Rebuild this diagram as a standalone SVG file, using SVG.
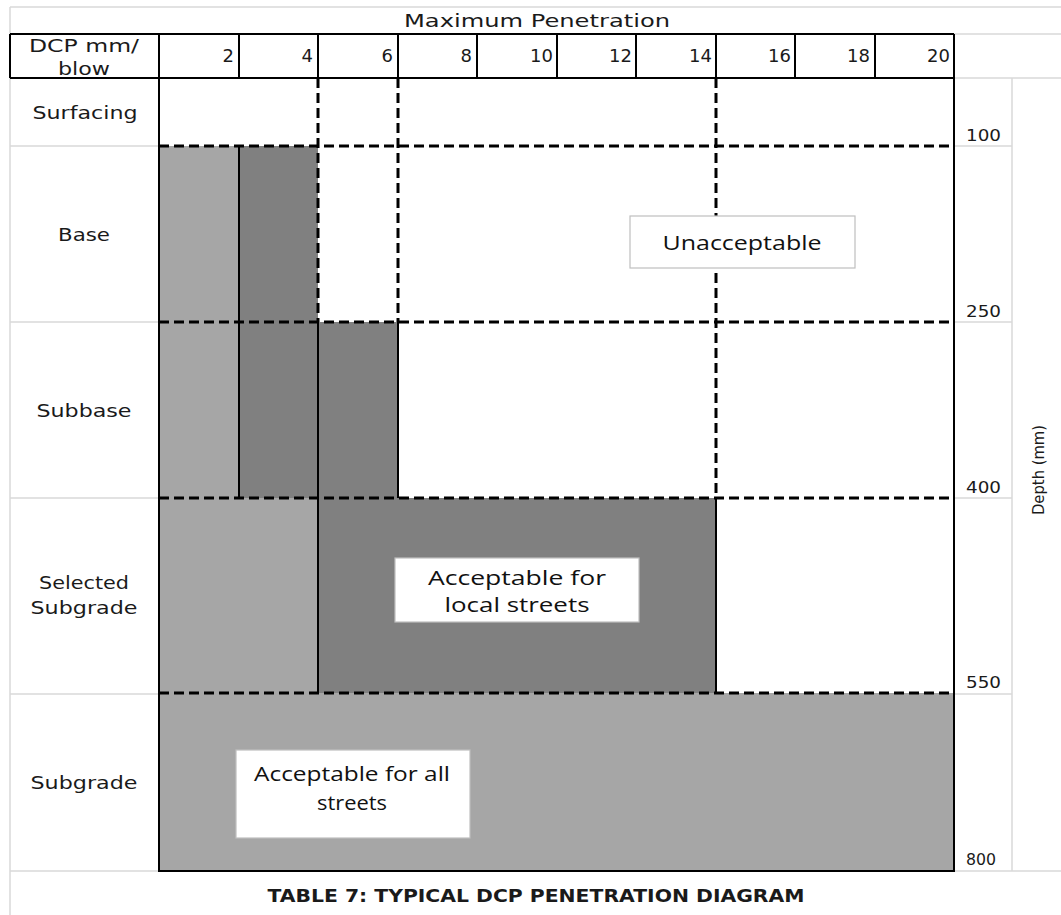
<svg xmlns="http://www.w3.org/2000/svg" width="1061" height="915" viewBox="0 0 1061 915">
<style>
.bg{fill:#ffffff}
.grid{stroke:#d9d9d9;stroke-width:1.5;fill:none}
.solid{stroke:#000;stroke-width:2;fill:none}
.dash{stroke:#000;stroke-width:3;stroke-dasharray:10 5;fill:none}
.lt{fill:#a6a6a6}
.dk{fill:#808080}
.lbl{font-family:"DejaVu Sans",sans-serif;font-size:17.5px;fill:#1a1a1a}
.num{font-family:"DejaVu Sans",sans-serif;font-size:18px;fill:#1a1a1a;text-anchor:end}
.dep{font-family:"DejaVu Sans",sans-serif;font-size:16px;fill:#1a1a1a}
.box{fill:#ffffff;stroke:#bfbfbf;stroke-width:1.2}
.boxt{font-family:"Open Sans",sans-serif;font-size:20px;fill:#111;text-anchor:middle}
.cap{font-family:"DejaVu Sans",sans-serif;font-size:17px;font-weight:bold;fill:#1a1a1a;text-anchor:middle}
</style>
<rect class="bg" x="0" y="0" width="1061" height="915"/>

<g id="sheet-grid">
<line class="grid" x1="10" y1="7" x2="1061" y2="7"/>
<line class="grid" x1="10" y1="7" x2="10" y2="915"/>
<line class="grid" x1="954" y1="34" x2="1061" y2="34"/>
<line class="grid" x1="954" y1="78" x2="1061" y2="78"/>
<line class="grid" x1="1012" y1="78" x2="1012" y2="871"/>
<line class="grid" x1="10" y1="146" x2="159" y2="146"/>
<line class="grid" x1="10" y1="322" x2="159" y2="322"/>
<line class="grid" x1="10" y1="498" x2="159" y2="498"/>
<line class="grid" x1="10" y1="694" x2="159" y2="694"/>
<line class="grid" x1="954" y1="146" x2="1012" y2="146"/>
<line class="grid" x1="954" y1="322" x2="1012" y2="322"/>
<line class="grid" x1="954" y1="498" x2="1012" y2="498"/>
<line class="grid" x1="954" y1="694" x2="1012" y2="694"/>
<line class="grid" x1="10" y1="871" x2="1061" y2="871"/>
</g>

<g id="fills">
<rect class="lt" x="159" y="146" width="80" height="352"/>
<rect class="dk" x="239" y="146" width="79" height="176"/>
<rect class="dk" x="239" y="322" width="159" height="176"/>
<rect class="lt" x="159" y="498" width="159" height="195"/>
<rect class="dk" x="318" y="498" width="398" height="195"/>
<rect class="lt" x="159" y="693" width="795" height="178"/>
</g>

<g id="connectors">
<line class="dash" x1="318" y1="78" x2="318" y2="322"/>
<line class="dash" x1="398" y1="78" x2="398" y2="322"/>
<line class="dash" x1="716" y1="78" x2="716" y2="498"/>
<line class="dash" x1="159" y1="146" x2="954" y2="146"/>
<line class="dash" x1="159" y1="322" x2="954" y2="322"/>
<line class="dash" x1="159" y1="498" x2="954" y2="498"/>
<line class="dash" x1="159" y1="693" x2="954" y2="693"/>
<line class="solid" x1="239" y1="146" x2="239" y2="498"/>
<line class="solid" x1="318" y1="322" x2="318" y2="693"/>
<line class="solid" x1="398" y1="322" x2="398" y2="498"/>
<line class="solid" x1="716" y1="498" x2="716" y2="693"/>
</g>

<g id="frame">
<line class="solid" x1="10" y1="34" x2="954" y2="34"/>
<line class="solid" x1="10" y1="78" x2="954" y2="78"/>
<line class="solid" x1="10" y1="34" x2="10" y2="78"/>
<line class="solid" x1="159" y1="34" x2="159" y2="871"/>
<line class="solid" x1="954" y1="34" x2="954" y2="871"/>
<line class="solid" x1="158" y1="871" x2="955" y2="871"/>
<line class="solid" x1="239" y1="34" x2="239" y2="78"/>
<line class="solid" x1="318" y1="34" x2="318" y2="78"/>
<line class="solid" x1="398" y1="34" x2="398" y2="78"/>
<line class="solid" x1="477" y1="34" x2="477" y2="78"/>
<line class="solid" x1="557" y1="34" x2="557" y2="78"/>
<line class="solid" x1="636" y1="34" x2="636" y2="78"/>
<line class="solid" x1="716" y1="34" x2="716" y2="78"/>
<line class="solid" x1="795" y1="34" x2="795" y2="78"/>
<line class="solid" x1="875" y1="34" x2="875" y2="78"/>
</g>

<g id="title">
<text class="lbl" x="404" y="27" font-size="18" textLength="266" lengthAdjust="spacingAndGlyphs">Maximum Penetration</text>
</g>

<g id="header">
<text class="lbl" x="84" y="52" text-anchor="middle" textLength="110" lengthAdjust="spacingAndGlyphs">DCP mm/</text>
<text class="lbl" x="84" y="75" text-anchor="middle" textLength="52" lengthAdjust="spacingAndGlyphs">blow</text>
<text class="num" x="234" y="62">2</text>
<text class="num" x="313" y="62">4</text>
<text class="num" x="393" y="62">6</text>
<text class="num" x="472" y="62">8</text>
<text class="num" x="553" y="62">10</text>
<text class="num" x="632" y="62">12</text>
<text class="num" x="712" y="62">14</text>
<text class="num" x="791" y="62">16</text>
<text class="num" x="870" y="62">18</text>
<text class="num" x="950" y="62">20</text>
</g>

<g id="row-labels">
<text class="lbl" x="85" y="119" text-anchor="middle" textLength="105" lengthAdjust="spacingAndGlyphs">Surfacing</text>
<text class="lbl" x="84" y="241" text-anchor="middle" textLength="52" lengthAdjust="spacingAndGlyphs">Base</text>
<text class="lbl" x="84" y="417" text-anchor="middle" textLength="95" lengthAdjust="spacingAndGlyphs">Subbase</text>
<text class="lbl" x="84" y="589" text-anchor="middle" textLength="90" lengthAdjust="spacingAndGlyphs">Selected</text>
<text class="lbl" x="84" y="614" text-anchor="middle" textLength="107" lengthAdjust="spacingAndGlyphs">Subgrade</text>
<text class="lbl" x="84" y="789" text-anchor="middle" textLength="107" lengthAdjust="spacingAndGlyphs">Subgrade</text>
</g>

<g id="depths">
<text class="dep" x="966" y="141" textLength="35" lengthAdjust="spacingAndGlyphs">100</text>
<text class="dep" x="966" y="317" textLength="35" lengthAdjust="spacingAndGlyphs">250</text>
<text class="dep" x="966" y="493" textLength="35" lengthAdjust="spacingAndGlyphs">400</text>
<text class="dep" x="966" y="688" textLength="35" lengthAdjust="spacingAndGlyphs">550</text>
<text class="dep" x="966" y="865" textLength="30" lengthAdjust="spacingAndGlyphs">800</text>
<text class="dep" transform="translate(1044,470) rotate(-90)" text-anchor="middle" font-family="'Liberation Sans',sans-serif" textLength="90" lengthAdjust="spacingAndGlyphs">Depth (mm)</text>
</g>

<g id="box-unacceptable">
<rect class="box" x="630" y="216" width="225" height="52"/>
<text class="boxt" x="742" y="250" textLength="159" lengthAdjust="spacingAndGlyphs">Unacceptable</text>
</g>

<g id="box-local">
<rect class="box" x="395" y="558" width="244" height="64"/>
<text class="boxt" x="517" y="585" textLength="178" lengthAdjust="spacingAndGlyphs">Acceptable for</text>
<text class="boxt" x="517" y="612" textLength="145" lengthAdjust="spacingAndGlyphs">local streets</text>
</g>

<g id="box-all">
<rect class="box" x="236" y="750" width="234" height="88"/>
<text class="boxt" x="352" y="781" textLength="196" lengthAdjust="spacingAndGlyphs">Acceptable for all</text>
<text class="boxt" x="352" y="810" textLength="70" lengthAdjust="spacingAndGlyphs">streets</text>
</g>

<g id="caption">
<text class="cap" x="536" y="902" textLength="537" lengthAdjust="spacingAndGlyphs">TABLE 7: TYPICAL DCP PENETRATION DIAGRAM</text>
</g>
</svg>
